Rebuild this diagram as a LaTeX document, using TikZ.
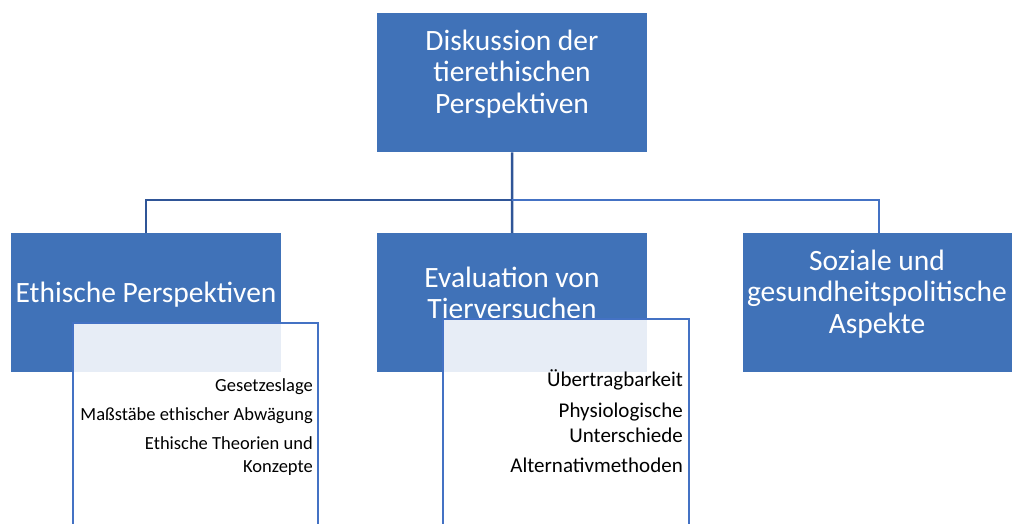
\documentclass[tikz,border=0pt]{standalone}
\usepackage{fontspec}
\setmainfont{Carlito}
\definecolor{boxblue}{RGB}{64,114,184}
\definecolor{linedark}{RGB}{47,85,151}
\definecolor{linelight}{RGB}{68,114,196}
\definecolor{subline}{RGB}{68,114,196}
\begin{document}
\begin{tikzpicture}[x=1pt,y=-1pt,
  bigbox/.style={fill=boxblue, draw=none, minimum width=270pt, minimum height=139pt, anchor=north west, inner sep=0pt},
  btext/.style={text=white, font=\fontsize{29.5}{31.5}\selectfont, align=center, inner sep=0pt},
  subbox/.style={draw=subline, line width=2pt, fill=white, fill opacity=0.88, draw opacity=1, minimum width=245pt, minimum height=220pt, anchor=north west, inner sep=0pt},
  stext/.style={text=black, font=\fontsize{18.5}{23}\selectfont, align=right, inner sep=0pt, anchor=north east},
  conn/.style={line width=2.5pt}
]
\useasboundingbox (0,0) rectangle (1012,523);
\clip (0,0) rectangle (1012,523);
\fill[white] (0,0) rectangle (1012,523);
% boxes
\node[bigbox] (top) at (377,13) {};
\node[bigbox] (left) at (11,233) {};
\node[bigbox] (mid) at (377,233) {};
\node[bigbox, minimum width=272pt] (right) at (743,233) {};
% connectors
\coordinate (hub) at (512,200);
\draw[conn, linedark] (top.south) -- (hub);
\draw[conn, linedark] (hub) -| (left.north);
\draw[conn, linedark] (hub) -- (mid.north);
\draw[conn, linelight] (hub) -| (right.north);
% texts
\node[btext] (toptxt) at (512,74) {Diskussion der\\tierethischen\\Perspektiven};
\node[btext] (lefttxt) at (146,295) {Ethische Perspektiven};
\node[btext] (midtxt) at (512,293) {Evaluation von\\Tierversuchen};
\node[btext] (righttxt) at (877,294) {Soziale und\\gesundheitspolitische\\Aspekte};
% sub boxes
\node[subbox] (lsub) at (72,322) {};
\node[subbox, minimum width=246pt] (msub) at (442,318) {};
\node[stext] (ltxt) at (313,378) {Gesetzeslage\\[6pt]Maßstäbe ethischer Abwägung\\[6pt]Ethische Theorien und\\Konzepte};
\node[stext, font=\fontsize{21}{24.5}\selectfont] (mtxt) at (683,369) {Übertragbarkeit\\[7pt]Physiologische\\Unterschiede\\[6pt]Alternativmethoden};
\end{tikzpicture}
\end{document}
